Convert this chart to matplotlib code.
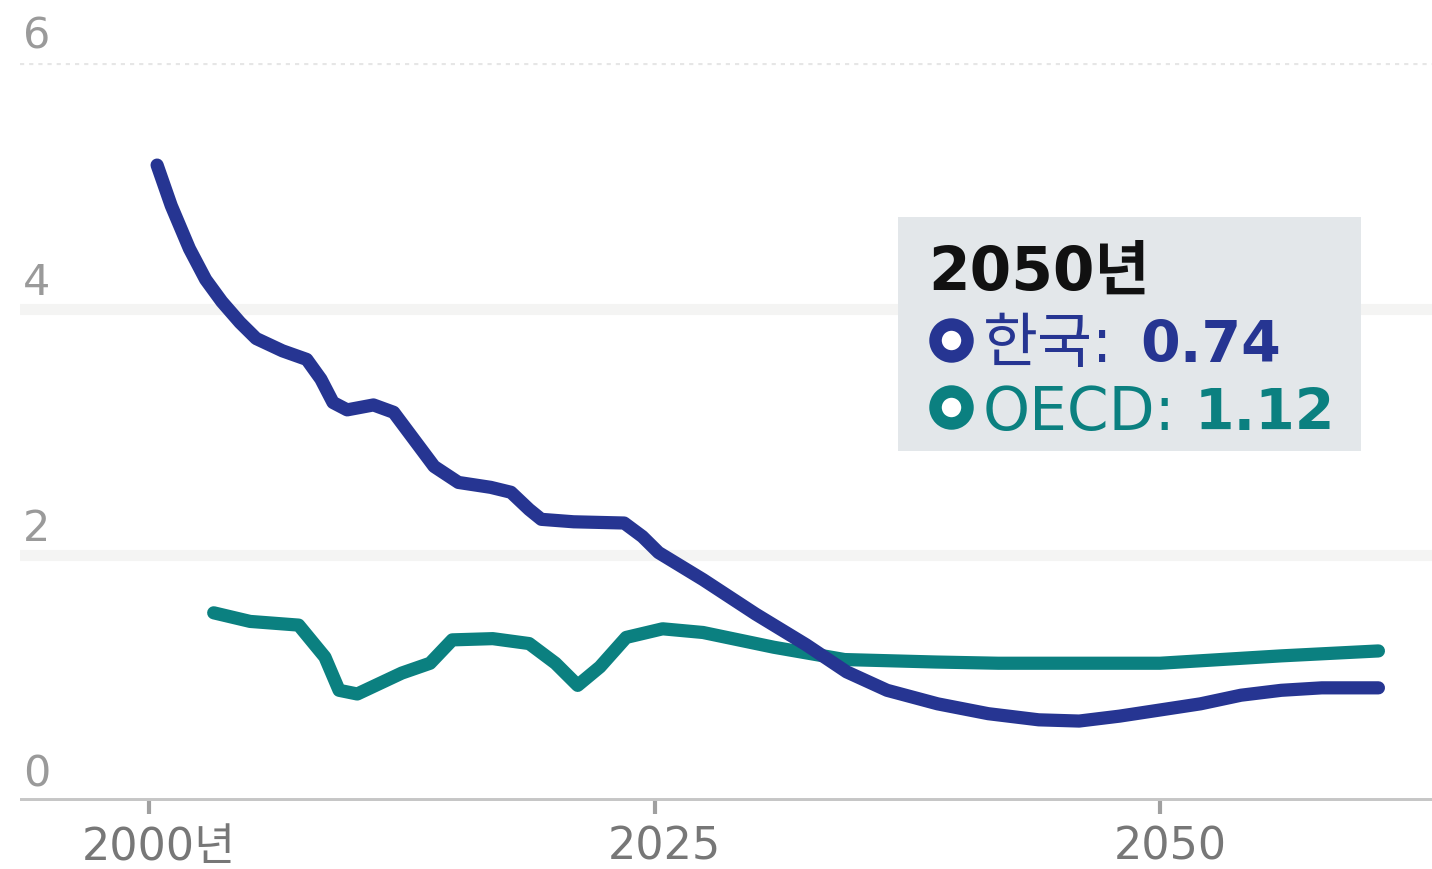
import matplotlib
matplotlib.use("Agg")
import matplotlib.pyplot as plt
import matplotlib.transforms as mtransforms
from matplotlib.patches import Rectangle
from matplotlib.lines import Line2D

plt.rcParams['font.family'] = ['DejaVu Sans', 'Noto Sans CJK KR']

# Data
kor_years = [2000.4, 2001.1, 2002.0, 2002.8, 2003.6, 2004.5, 2005.3, 2006.6, 2007.8,
             2008.5, 2009.1, 2009.8, 2011.1, 2012.1, 2013.1, 2014.1, 2015.3, 2016.9,
             2017.9, 2018.8, 2019.4, 2021.0, 2023.5, 2024.4, 2025.2, 2027.4, 2030.0,
             2032.5, 2034.5, 2036.5, 2039.0, 2041.5, 2044.0, 2046.0, 2048.0, 2050.0,
             2052.0, 2054.0, 2056.0, 2058.0, 2060.8]
kor_values = [5.17, 4.84, 4.49, 4.24, 4.06, 3.89, 3.76, 3.66, 3.59,
              3.43, 3.24, 3.18, 3.22, 3.16, 2.94, 2.72, 2.59, 2.55,
              2.51, 2.37, 2.29, 2.27, 2.26, 2.15, 2.02, 1.80, 1.52,
              1.27, 1.05, 0.90, 0.79, 0.71, 0.66, 0.65, 0.69, 0.74,
              0.79, 0.86, 0.90, 0.92, 0.92]

oecd_years = [2003.2, 2005.0, 2007.4, 2008.7, 2009.4, 2010.3, 2012.5, 2013.9, 2015.0,
              2017.0, 2018.8, 2020.1, 2021.2, 2022.3, 2023.6, 2025.4, 2027.4, 2030.9,
              2034.4, 2038.9, 2042.0, 2046.0, 2050.0, 2053.0, 2056.0, 2060.8]
oecd_values = [1.53, 1.46, 1.43, 1.17, 0.90, 0.87, 1.04, 1.12, 1.31,
               1.32, 1.28, 1.12, 0.94, 1.09, 1.33, 1.40, 1.37, 1.25,
               1.15, 1.13, 1.12, 1.12, 1.12, 1.15, 1.18, 1.22]

x_ticks = [2000, 2025, 2050]
x_tick_labels = ['2000년', '2025', '2050']
y_ticks = [0, 2, 4, 6]

tip_title = '2050년'
tip_kor = 0.74
tip_oecd = 1.12

KOR_COLOR = '#263592'
OECD_COLOR = '#0b8080'

W, H = 1432, 870
fig = plt.figure(figsize=(W / 100, H / 100), dpi=100)
ax = fig.add_axes([20 / W, 1 - 802 / H, 1 - 20 / W, (802 - 64) / H])
ax.set_xlim(1993.62, 2063.45)
ax.set_ylim(0, 6)
for s in ax.spines.values():
    s.set_visible(False)

# grid
ax.axhline(6, color='#e6e6e6', lw=3, linestyle=(0, (1, 1.2)), zorder=1)
for v in [2, 4]:
    ax.axhline(v, color='#f4f4f3', lw=8, zorder=1)
ax.axhline(0, color='#c6c6c6', lw=5, zorder=1)

for v in y_ticks:
    ax.annotate(str(v), xy=(0, v), xycoords=('axes fraction', 'data'),
                xytext=(2, 11), textcoords='offset points',
                ha='left', va='baseline', fontsize=31, color='#9a9a9a')

ax.set_yticks([])
ax.set_xticks(x_ticks)
ax.set_xticklabels(x_tick_labels)
ax.tick_params(axis='x', length=9, width=3, color='#a0a0a0', pad=8,
               labelsize=32, labelcolor='#777777')
offset = mtransforms.ScaledTranslation(10 / 100, 0, fig.dpi_scale_trans)
for lbl in ax.get_xticklabels():
    lbl.set_transform(lbl.get_transform() + offset)

ax.plot(oecd_years, oecd_values, color=OECD_COLOR, lw=9.5,
        solid_capstyle='round', solid_joinstyle='round', zorder=3)
ax.plot(kor_years, kor_values, color=KOR_COLOR, lw=9.5,
        solid_capstyle='round', solid_joinstyle='round', zorder=4)

# tooltip box
def fx(px):
    return px / W

def fy(py):
    return 1 - py / H

fig.add_artist(Rectangle((fx(898), fy(452)), (1361 - 898) / W, (452 - 218) / H,
                         transform=fig.transFigure, facecolor='#e3e7ea',
                         edgecolor='none', zorder=5))
fig.text(fx(928), fy(290), tip_title, fontsize=43, fontweight='bold',
         color='#111111', va='baseline', zorder=6)

rows = [('한국:', tip_kor, KOR_COLOR, 341, 362, 1140),
        ('OECD:', tip_oecd, OECD_COLOR, 408, 430, 1195)]
for name, val, col, cy, base, vx in rows:
    fig.add_artist(Line2D([fx(951)], [fy(cy)], transform=fig.transFigure,
                          marker='o', markersize=23, markeredgewidth=9,
                          markeredgecolor=col, markerfacecolor='white',
                          linestyle='none', zorder=6))
    fig.text(fx(983), fy(base), name, fontsize=43, color=col,
             va='baseline', zorder=6)
    fig.text(fx(vx), fy(base), f'{val:.2f}', fontsize=41, fontweight='bold',
             color=col, va='baseline', zorder=6)

fig.savefig('out.png', dpi=100, facecolor='white')
